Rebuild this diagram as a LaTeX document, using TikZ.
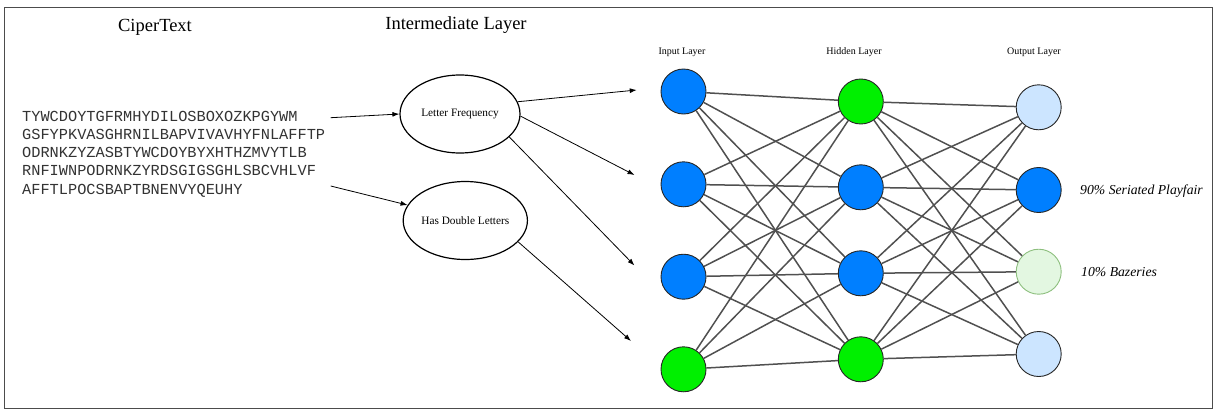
\documentclass[tikz,border=0pt]{standalone}
\usepackage{fontspec}
\setmainfont{Liberation Serif}
\setmonofont{Liberation Mono}
\usetikzlibrary{arrows.meta,shapes.geometric}
\definecolor{nnblue}{HTML}{007FFF}
\definecolor{nngreen}{HTML}{00F000}
\definecolor{nnlblue}{HTML}{CCE5FF}
\definecolor{nnlgreen}{HTML}{E3F7E1}
\definecolor{nnlgreenb}{HTML}{8DBF7E}
\definecolor{edgegray}{HTML}{505050}
\begin{document}
\begin{tikzpicture}[x=1pt,y=-1pt,
  neuron/.style={circle, minimum size=45pt, inner sep=0pt, draw=black!85, line width=0.9pt},
  feat/.style={ellipse, draw, line width=1.2pt, minimum width=120pt, minimum height=78pt, inner sep=0pt, font=\fontsize{11.3}{13}\selectfont},
  arr/.style={-{Latex[length=7pt,width=5pt]}, line width=0.8pt},
  conn/.style={draw=edgegray, line width=1.5pt},
  titletext/.style={font=\fontsize{18.5}{22}\selectfont, inner sep=0pt},
  layerlbl/.style={font=\fontsize{10}{12}\selectfont, inner sep=0pt},
  result/.style={font=\fontsize{13.7}{16}\selectfont\itshape, anchor=west, inner sep=0pt}
]
\useasboundingbox (0,0) rectangle (1215,410);
\draw[line width=1pt, draw=black!70] (4.5,7) rectangle (1212.5,408);

% titles
\node[titletext] (tct) at (155,27) {CiperText};
\node[titletext] (til) at (456,25) {Intermediate Layer};

% ciphertext
\node[anchor=north west, inner sep=0pt, align=left, text=black!80, font=\ttfamily\fontsize{15.3}{18.3}\selectfont] (ct) at (22,110.6)
{TYWCDOYTGFRMHYDILOSBOXOZKPGYWM\\
GSFYPKVASGHRNILBAPVIVAVHYFNLAFFTP\\
ODRNKZYZASBTYWCDOYBYXHTHZMVYTLB\\
RNFIWNPODRNKZYRDSGIGSGHLSBCVHLVF\\
AFFTLPOCSBAPTBNENVYQEUHY};

% features
\node[feat] (lf) at (460,114) {Letter Frequency};
\node[feat] (hdl) at (465.3,220.5) {Has Double Letters};

\coordinate (s1) at (330.7,117.7);
\coordinate (s2) at (330.7,186);
\coordinate (t1) at (636.7,90);
\coordinate (t2) at (634.5,175);
\coordinate (t3) at (634.5,265.5);
\coordinate (t4) at (631,341);

\draw[arr] (s1) -- (lf.180);
\draw[arr] (s2) -- (hdl.165);
\draw[arr] (lf.12) -- (t1);
\draw[arr] (lf.-2) -- (t2);
\draw[arr] (lf.-25) -- (t3);
\draw[arr] (hdl.-22) -- (t4);

% layer labels
\node[layerlbl] (li) at (682,52) {Input Layer};
\node[layerlbl] (lh) at (854,52) {Hidden Layer};
\node[layerlbl] (lo) at (1034,52) {Output Layer};

% neurons
\node[neuron, fill=nnblue] (i1) at (683.5,91.5) {};
\node[neuron, fill=nnblue] (i2) at (683.5,184.3) {};
\node[neuron, fill=nnblue] (i3) at (683.5,276.7) {};
\node[neuron, fill=nngreen] (i4) at (683.5,369.3) {};
\node[neuron, fill=nngreen] (h1) at (860.8,101.5) {};
\node[neuron, fill=nnblue] (h2) at (860.8,187.3) {};
\node[neuron, fill=nnblue] (h3) at (860.8,273.3) {};
\node[neuron, fill=nngreen] (h4) at (860.8,359.3) {};
\node[neuron, fill=nnlblue] (o1) at (1038.7,107.3) {};
\node[neuron, fill=nnblue] (o2) at (1038.7,190) {};
\node[neuron, fill=nnlgreen, draw=nnlgreenb] (o3) at (1038.7,271.7) {};
\node[neuron, fill=nnlblue] (o4) at (1038.7,354) {};

\foreach \a in {1,2,3,4}{
  \foreach \b in {1,2,3,4}{
    \draw[conn] (i\a) -- (h\b);
    \draw[conn] (h\a) -- (o\b);
  }
}

% results
\node[result] (r1) at (1080,191) {90\% Seriated Playfair};
\node[result] (r2) at (1081,272) {10\% Bazeries};
\end{tikzpicture}
\end{document}
